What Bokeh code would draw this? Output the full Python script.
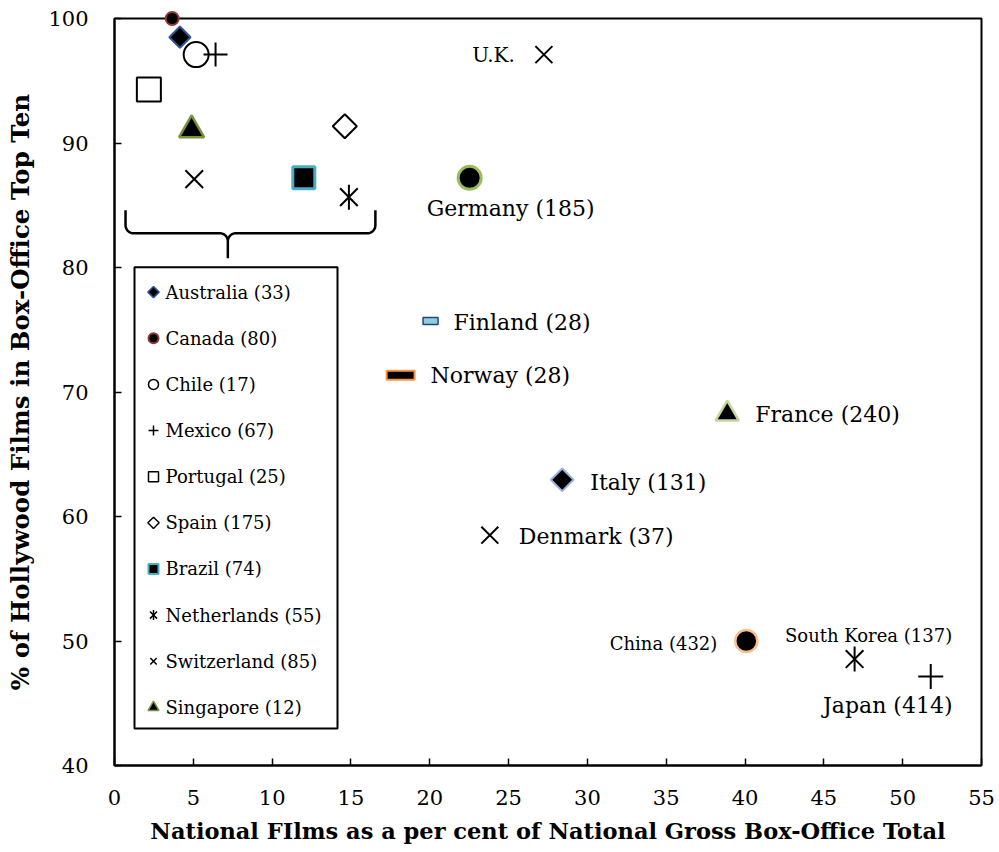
import math
from bokeh.plotting import figure
from bokeh.models import ColumnDataSource, FixedTicker, Range1d
from bokeh.core.properties import value
from bokeh.embed import file_html
from bokeh.resources import INLINE

# ---------------- data ----------------
countries = ["Australia", "Canada", "Chile", "Mexico", "Portugal", "Spain", "Brazil",
             "Netherlands", "Switzerland", "Singapore",
             "U.K.", "Germany", "Finland", "Norway", "France", "Italy", "Denmark",
             "China", "South Korea", "Japan"]
films = [33, 80, 17, 67, 25, 175, 74, 55, 85, 12,
         None, 185, 28, 28, 240, 131, 37, 432, 137, 414]
national_share = [4.15, 3.66, 5.18, 6.41, 2.18, 14.61, 12.01, 14.87, 5.06, 4.89,
                  27.24, 22.53, 20.05, 18.15, 38.87, 28.4, 23.81, 40.08, 46.95, 51.78]
hollywood_pct = [98.5, 100.0, 97.1, 97.1, 94.3, 91.35, 87.2, 85.65, 87.1, 91.05,
                 97.1, 87.2, 75.7, 71.35, 68.25, 62.95, 58.5, 50.0, 48.55, 47.15]
legend_countries = countries[:10]
x_ticks = [0, 5, 10, 15, 20, 25, 30, 35, 40, 45, 50, 55]
y_ticks = [40, 50, 60, 70, 80, 90, 100]

# ---------------- styles ----------------
# marker, size, fill, line colour, line width, rotated
style = {
    "Australia":   ("square",   15, "black", "#2f5496", 2.0, True),
    "Canada":      ("circle",   13, "black", "#943634", 2.0, False),
    "Chile":       ("circle",   25, "white", "black",   2.0, False),
    "Mexico":      ("cross",    24, "black", "black",   2.0, False),
    "Portugal":    ("square",   24, "white", "black",   2.0, False),
    "Spain":       ("square",   17, "white", "black",   2.0, True),
    "Brazil":      ("square",   22, "black", "#4bacc6", 3.0, False),
    "Netherlands": ("x",        25, "black", "black",   2.0, False),
    "Switzerland": ("x",        25, "black", "black",   2.0, False),
    "Singapore":   ("triangle", 25, "black", "#77933c", 2.5, False),
    "U.K.":        ("x",        24, "black", "black",   2.0, False),
    "Germany":     ("circle",   23, "black", "#9bbb59", 3.0, False),
    "France":      ("triangle", 23, "black", "#c3d69b", 2.5, False),
    "Italy":       ("square",   16, "black", "#95b3d7", 2.0, True),
    "Denmark":     ("x",        24, "black", "black",   2.0, False),
    "China":       ("circle",   22, "black", "#fabf8f", 2.5, False),
    "South Korea": ("x",        25, "black", "black",   2.0, False),
    "Japan":       ("cross",    25, "black", "black",   2.0, False),
}
rect_style = {  # width px, height px, fill, line colour, line width
    "Finland": (15, 7, "#93cddd", "#1f497d", 1.5),
    "Norway":  (28, 9, "black", "#f79646", 2.0),
}
asterisks = ["Netherlands", "South Korea"]
legend_style = {  # size, line width
    "Australia": (8, 1.5), "Canada": (10, 2.0), "Chile": (10, 1.5), "Mexico": (10, 1.5),
    "Portugal": (10, 1.5), "Spain": (8, 1.5), "Brazil": (10, 2.0), "Netherlands": (10, 1.5),
    "Switzerland": (9, 1.5), "Singapore": (11, 1.5),
}
# label offsets in screen px, alignment, font size
label_style = {
    "U.K.":        (-29, 0, "right", "20px"),
    "Germany":     (41, 31, "center", "22px"),
    "Finland":     (23, 1, "left", "22px"),
    "Norway":      (30, 0, "left", "22px"),
    "France":      (28, 1, "left", "22px"),
    "Italy":       (28, 3, "left", "22px"),
    "Denmark":     (29, 1, "left", "22px"),
    "China":       (-29, 2, "right", "18px"),
    "South Korea": (14, -24, "center", "18px"),
    "Japan":       (-43, 29, "center", "22px"),
}

FONT = "DejaVu Serif"
X0, X1, Y0, Y1 = 0, 55, 40, 100
FRAME_L, FRAME_T = 114, 18
FRAME_W, FRAME_H = 867, 748
SX = FRAME_W / (X1 - X0)
SY = FRAME_H / (Y1 - Y0)

p = figure(width=FRAME_L + FRAME_W + 14, height=FRAME_T + FRAME_H + 80,
           x_range=Range1d(X0, X1), y_range=Range1d(Y0, Y1),
           output_backend="svg", toolbar_location=None,
           min_border_left=FRAME_L, min_border_right=14, min_border_top=FRAME_T,
           min_border_bottom=80)
p.background_fill_color = "white"
p.border_fill_color = "white"
p.outline_line_color = "black"
p.outline_line_width = 2
p.xgrid.visible = False
p.ygrid.visible = False

for ax, ticks in ((p.xaxis, x_ticks), (p.yaxis, y_ticks)):
    ax.ticker = FixedTicker(ticks=ticks)
    ax.axis_line_width = 2
    ax.axis_line_color = "black"
    ax.major_tick_in = 7
    ax.major_tick_out = 0
    ax.major_tick_line_width = 1.5
    ax.minor_tick_in = 0
    ax.minor_tick_out = 0
    ax.major_label_text_font = FONT
    ax.major_label_text_font_size = "21px"
    ax.major_label_text_color = "black"
    ax.axis_label_text_font = FONT
    ax.axis_label_text_font_style = "bold"
    ax.axis_label_text_color = "black"
p.xaxis.axis_label_text_font_size = "22.5px"
p.yaxis.axis_label_text_font_size = "24.5px"
p.xaxis.major_label_standoff = 24
p.xaxis.axis_label_standoff = 10
p.yaxis.major_label_standoff = 26
p.yaxis.axis_label_standoff = 10
p.xaxis.axis_label = "National FIlms as a per cent of National Gross Box-Office Total"
p.yaxis.axis_label = "% of Hollywood Films in Box-Office Top Ten"

# ---------------- markers ----------------
idx = [i for i, c in enumerate(countries) if c in style]
src = ColumnDataSource(dict(
    x=[national_share[i] for i in idx],
    y=[hollywood_pct[i] for i in idx],
    marker=[style[countries[i]][0] for i in idx],
    size=[style[countries[i]][1] for i in idx],
    fill=[style[countries[i]][2] for i in idx],
    line=[style[countries[i]][3] for i in idx],
    lw=[style[countries[i]][4] for i in idx],
    angle=[math.pi / 4 if style[countries[i]][5] else 0 for i in idx],
))
p.scatter("x", "y", source=src, marker="marker", size="size", fill_color="fill",
          line_color="line", line_width="lw", angle="angle", level="overlay")

ast_idx = [countries.index(c) for c in asterisks]
p.scatter([national_share[i] for i in ast_idx], [hollywood_pct[i] for i in ast_idx],
          marker="dash", size=[style[countries[i]][1] for i in ast_idx],
          angle=math.pi / 2, line_color="black", line_width=2)

r_idx = [countries.index(c) for c in rect_style]
p.rect([national_share[i] for i in r_idx], [hollywood_pct[i] for i in r_idx],
       width=[rect_style[countries[i]][0] for i in r_idx],
       height=[rect_style[countries[i]][1] for i in r_idx],
       width_units="screen", height_units="screen",
       fill_color=[rect_style[countries[i]][2] for i in r_idx],
       line_color=[rect_style[countries[i]][3] for i in r_idx],
       line_width=[rect_style[countries[i]][4] for i in r_idx])

# ---------------- point labels ----------------
def label_of(i):
    return countries[i] if films[i] is None else f"{countries[i]} ({films[i]})"

l_idx = [countries.index(c) for c in label_style]
lsrc = ColumnDataSource(dict(
    x=[national_share[i] for i in l_idx],
    y=[hollywood_pct[i] for i in l_idx],
    text=[label_of(i) for i in l_idx],
    dx=[label_style[countries[i]][0] for i in l_idx],
    dy=[label_style[countries[i]][1] for i in l_idx],
    align=[label_style[countries[i]][2] for i in l_idx],
    fs=[label_style[countries[i]][3] for i in l_idx],
))
p.text("x", "y", text="text", source=lsrc, x_offset="dx", y_offset="dy",
       text_align="align", text_baseline="middle", text_font_size="fs",
       text_font=value(FONT), text_color="black")

# ---------------- brace (decoration) ----------------
def arc(cx, cy, r, a0, a1, n=10):
    pts = []
    for k in range(n + 1):
        a = math.radians(a0 + (a1 - a0) * k / n)
        pts.append((cx + r * math.cos(a) / SX, cy + r * math.sin(a) / SY))
    return pts

bx0, bx1, bxm = 0.70, 16.55, 7.19
b_top, b_bar, b_tip = 84.6, 82.75, 80.75
R = 8
rx, ry = R / SX, R / SY
path = [(bx0, b_top)]
path += arc(bx0 + rx, b_bar + ry, R, 180, 270)
path += arc(bxm - rx, b_bar - ry, R, 90, 0)
path += [(bxm, b_tip)]
path += arc(bxm + rx, b_bar - ry, R, 180, 90)
path += arc(bx1 - rx, b_bar + ry, R, 270, 360)
path += [(bx1, b_top)]
p.line([q[0] for q in path], [q[1] for q in path], line_color="black", line_width=2.5)

# ---------------- legend (drawn box) ----------------
def px_x(px):
    return X0 + (px - FRAME_L) / SX

def px_y(py):
    return Y0 + (FRAME_T + FRAME_H - py) / SY

p.quad(left=px_x(134), right=px_x(337), top=px_y(267), bottom=px_y(729),
       fill_color="white", line_color="black", line_width=2)

step = 46.2
lg = [countries.index(c) for c in legend_countries]
ly = [px_y(292 + k * step) for k in range(len(lg))]
lmx = px_x(153)
ltx = px_x(165)
lgsrc = ColumnDataSource(dict(
    x=[lmx] * len(lg), y=ly,
    marker=[style[countries[i]][0] for i in lg],
    size=[legend_style[countries[i]][0] for i in lg],
    fill=[style[countries[i]][2] for i in lg],
    line=[style[countries[i]][3] for i in lg],
    lw=[legend_style[countries[i]][1] for i in lg],
    angle=[math.pi / 4 if style[countries[i]][5] else 0 for i in lg],
))
p.scatter("x", "y", source=lgsrc, marker="marker", size="size", fill_color="fill",
          line_color="line", line_width="lw", angle="angle")
for k, i in enumerate(lg):
    if countries[i] in asterisks:
        p.scatter([lmx], [ly[k]], marker="dash", size=legend_style[countries[i]][0],
                  angle=math.pi / 2, line_color="black", line_width=1.5)
p.text([ltx] * len(lg), ly, text=[label_of(i) for i in lg], text_align="left",
       text_baseline="middle", text_font_size="18px", text_font=value(FONT),
       text_color="black")

open("out.html", "w").write(file_html(p, INLINE))
